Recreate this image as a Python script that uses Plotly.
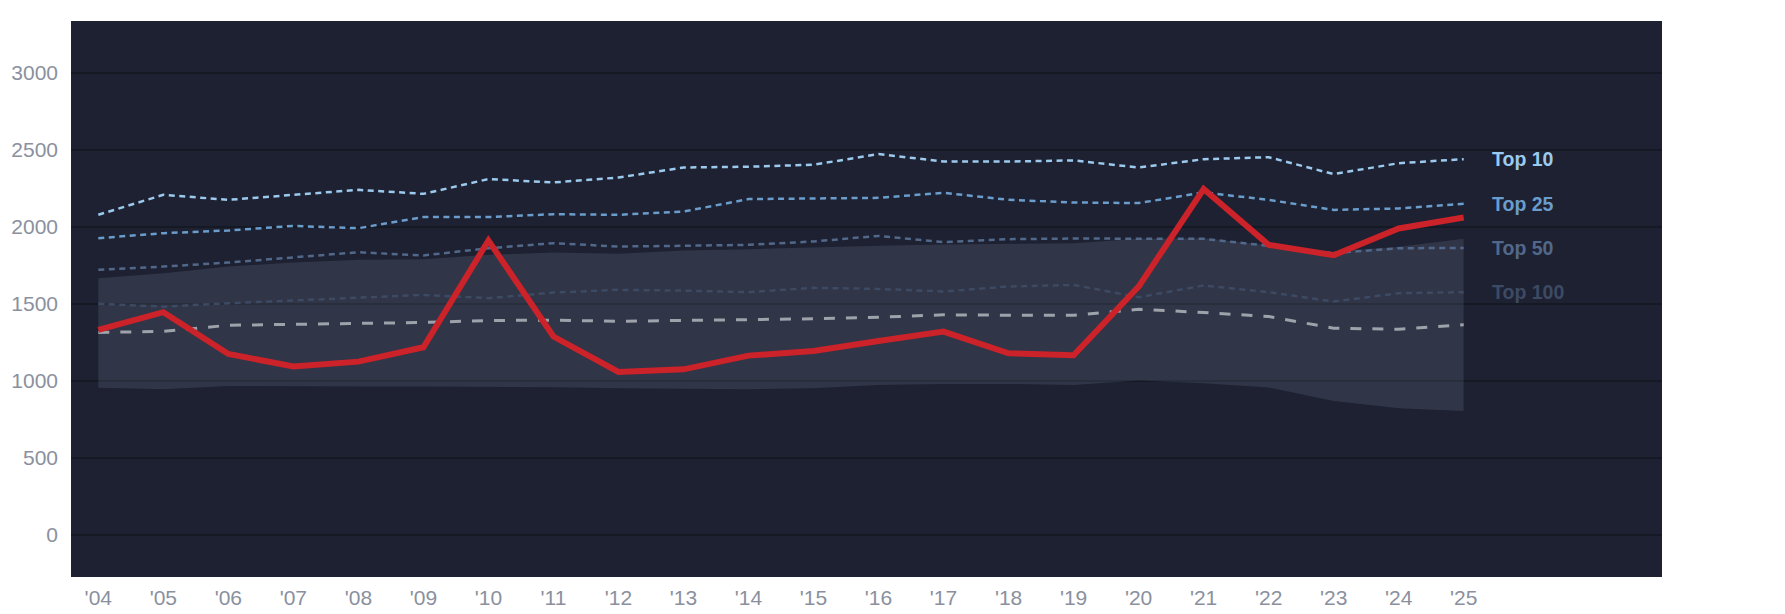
import plotly.graph_objects as go

years = list(range(2004, 2026))
year_labels = ["'" + str(y)[2:] for y in years]

top10 = [2078, 2208, 2175, 2208, 2240, 2214, 2310, 2288, 2320, 2385, 2390, 2403,
         2472, 2424, 2424, 2431, 2385, 2439, 2452, 2342, 2413, 2439]
top25 = [1926, 1959, 1976, 2006, 1991, 2063, 2063, 2082, 2078, 2099, 2180, 2186,
         2188, 2221, 2175, 2158, 2154, 2223, 2175, 2110, 2119, 2149]
top50 = [1721, 1742, 1768, 1803, 1835, 1814, 1861, 1894, 1872, 1877, 1883, 1905,
         1941, 1900, 1920, 1924, 1922, 1922, 1877, 1829, 1861, 1863]
top100 = [1500, 1482, 1504, 1521, 1537, 1558, 1537, 1573, 1591, 1586, 1576, 1604,
          1597, 1580, 1613, 1623, 1543, 1619, 1576, 1515, 1569, 1576]
median = [1314, 1322, 1361, 1366, 1374, 1379, 1392, 1394, 1387, 1392, 1394, 1403,
          1413, 1429, 1426, 1426, 1465, 1444, 1418, 1342, 1335, 1364]
band_high = [1666, 1699, 1742, 1768, 1786, 1790, 1818, 1833, 1826, 1846, 1855, 1868,
             1877, 1885, 1890, 1894, 1922, 1926, 1880, 1840, 1871, 1923]
band_low = [956, 946, 967, 963, 963, 963, 961, 959, 952, 948, 946, 952,
            974, 980, 980, 974, 1002, 985, 957, 869, 823, 804]
team = [1331, 1446, 1175, 1093, 1125, 1218, 1911, 1288, 1058, 1075, 1164, 1194,
        1259, 1320, 1179, 1166, 1612, 2245, 1883, 1816, 1989, 2060]

tiers = [
    ("Top 100", top100, "#3d4a63"),
    ("Top 50", top50, "#52688a"),
    ("Top 25", top25, "#6a9ccc"),
    ("Top 10", top10, "#9ccaee"),
]

fig = go.Figure()

# shaded range
fig.add_trace(go.Scatter(x=years, y=band_low, mode="lines", line=dict(width=0),
                         hoverinfo="skip", showlegend=False))
fig.add_trace(go.Scatter(x=years, y=band_high, mode="lines", line=dict(width=0),
                         fill="tonexty", fillcolor="rgba(148,163,184,0.16)",
                         hoverinfo="skip", showlegend=False))

for name, vals, color in tiers:
    fig.add_trace(go.Scatter(x=years, y=vals, mode="lines", name=name,
                             line=dict(color=color, width=2.5, dash="6px,4.5px"),
                             showlegend=False))
    fig.add_annotation(x=years[-1], y=vals[-1], text="<b>" + name + "</b>",
                       showarrow=False, xanchor="left", xshift=26,
                       font=dict(size=19.5, color=color))

fig.add_trace(go.Scatter(x=years, y=median, mode="lines", name="Median",
                         line=dict(color="#9ea2aa", width=3, dash="11px,11px"),
                         showlegend=False))
fig.add_trace(go.Scatter(x=years, y=team, mode="lines", name="Team",
                         line=dict(color="#cc2229", width=6),
                         showlegend=False))

fig.update_layout(
    width=1785, height=614,
    margin=dict(l=63, r=131, t=13, b=45),
    paper_bgcolor="white",
    plot_bgcolor="#1d2131",
    font=dict(family="Liberation Sans, Arial, sans-serif", size=21, color="#8a909e"),
    xaxis=dict(range=[2003.58, 2028.05], tickvals=years, ticktext=year_labels,
               showgrid=False, zeroline=False, showline=False, ticks="",
               ticklabelstandoff=6, automargin=False,
               tickfont=dict(size=21, color="#8a909e")),
    yaxis=dict(range=[-273, 3336], tickvals=[0, 500, 1000, 1500, 2000, 2500, 3000],
               showgrid=True, gridcolor="#151924", gridwidth=2, zeroline=False,
               showline=False, ticks="", ticklabelstandoff=12, automargin=False,
               tickfont=dict(size=21, color="#8a909e")),
)

fig.write_html("out.html")
